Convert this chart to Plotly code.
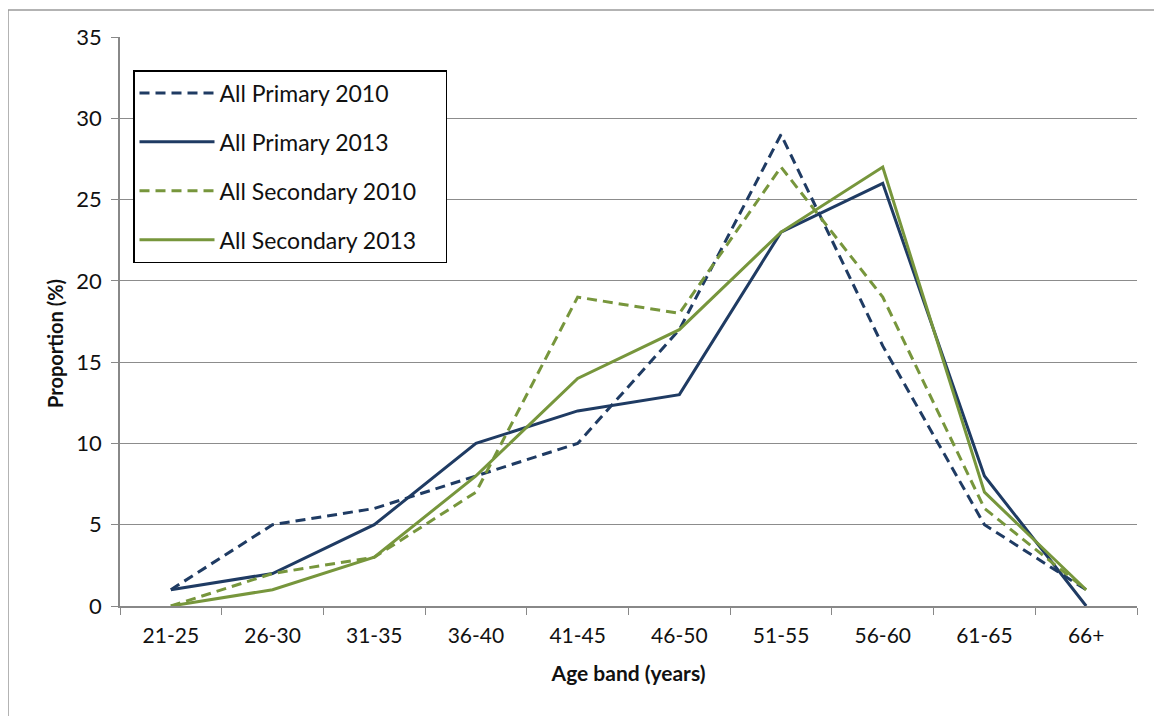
import plotly.graph_objects as go

age_bands = ["21-25", "26-30", "31-35", "36-40", "41-45", "46-50", "51-55", "56-60", "61-65", "66+"]
primary_2010 = [1, 5, 6, 8, 10, 17, 29, 16, 5, 1]
primary_2013 = [1, 2, 5, 10, 12, 13, 23, 26, 8, 0]
secondary_2010 = [0, 2, 3, 7, 19, 18, 27, 19, 6, 1]
secondary_2013 = [0, 1, 3, 8, 14, 17, 23, 27, 7, 1]
y_ticks = [0, 5, 10, 15, 20, 25, 30, 35]

navy = "#1F3B63"
olive = "#77963C"
font_family = "Lato, 'Open Sans', sans-serif"

series = [
    ("All Primary 2010", primary_2010, navy, "10px,6px"),
    ("All Primary 2013", primary_2013, navy, "solid"),
    ("All Secondary 2010", secondary_2010, olive, "10px,6px"),
    ("All Secondary 2013", secondary_2013, olive, "solid"),
]

pad = "\u00a0" * 4

fig = go.Figure()
for i, (name, vals, col, dash) in enumerate(series):
    fig.add_trace(go.Scatter(
        x=age_bands, y=vals, mode="lines", name=name + pad,
        line=dict(color=col, width=3, dash=dash),
        legendgroup=f"g{i}",
    ))

# page has an 8px body margin
W, H = 1154, 708
L, R, T, B = 112, 25, 29, 110
pw = W - L - R
ph = H - T - B
plot_bottom = H - B  # figure y of plot bottom

fig.update_layout(
    width=W, height=H,
    margin=dict(l=L, r=R, t=T, b=B),
    paper_bgcolor="white", plot_bgcolor="white",
    font=dict(family=font_family, size=21, color="#111111"),
    showlegend=True,
    legend=dict(
        x=(125 - L) / pw, y=(plot_bottom - 62) / ph, xanchor="left", yanchor="top",
        bordercolor="#000000", borderwidth=1.5, bgcolor="white",
        font=dict(size=23), tracegroupgap=16, traceorder="grouped",
        itemwidth=75,
    ),
    xaxis=dict(
        type="category", tickson="boundaries", ticks="outside", ticklen=7,
        tickcolor="#888888", showline=True, linecolor="#888888", linewidth=1.5,
        showgrid=False, range=[-0.5, 9.5], ticklabelstandoff=10,
        title=dict(text="<b>Age band (years)</b>", font=dict(size=21), standoff=20),
        tickfont=dict(size=21),
    ),
    yaxis=dict(
        range=[0, 35], tickvals=y_ticks, ticks="outside", ticklen=7,
        tickcolor="#888888", showline=True, linecolor="#888888", linewidth=1.5,
        showgrid=True, gridcolor="#8C8C8C", gridwidth=1.2, zeroline=False,
        ticklabelstandoff=5,
        tickfont=dict(size=22),
    ),
    annotations=[dict(
        text="<b>Proportion (%)</b>", xref="paper", yref="paper",
        x=(47 - L) / pw, y=(plot_bottom - 336) / ph, xanchor="center", yanchor="middle",
        textangle=-90, showarrow=False, font=dict(size=20),
    )],
)

fig.add_shape(
    type="rect", xref="paper", yref="paper",
    x0=(0 - L) / pw, x1=(W + 20 - L) / pw,
    y0=(plot_bottom - 740) / ph, y1=(plot_bottom - 2) / ph,
    line=dict(color="#9A9A9A", width=1.5), layer="below",
)

fig.write_html("out.html")
